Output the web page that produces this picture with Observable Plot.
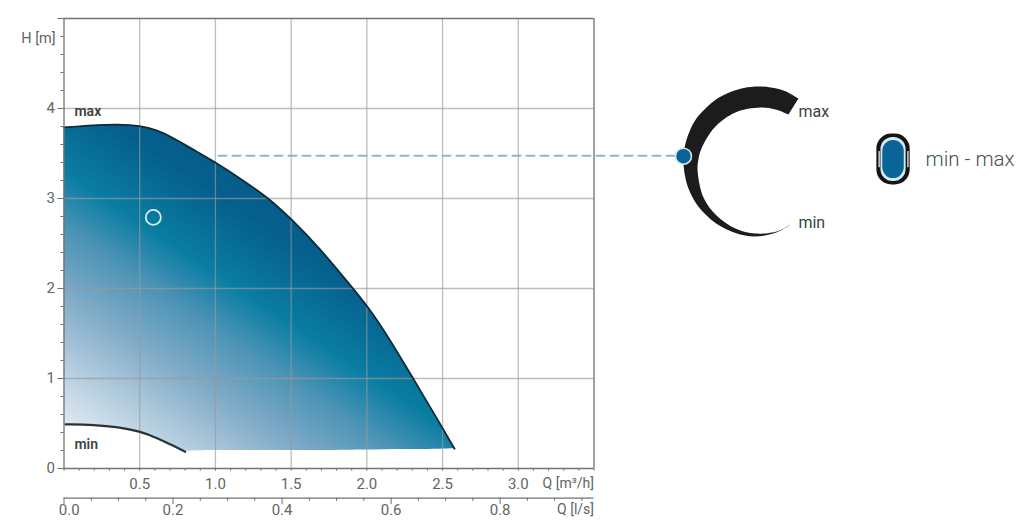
<!DOCTYPE html>
<html><head><meta charset="utf-8">
<style>html,body{margin:0;padding:0;background:#fff}svg{display:block}</style>
<script src="https://cdn.jsdelivr.net/npm/d3@7"></script>
<script src="https://cdn.jsdelivr.net/npm/@observablehq/plot@0.6"></script>
</head><body><div id="chart"></div>
<script>
// Pump curve: Q in m3/h, H in m
const curveQ   = [0, 0.2, 0.36, 0.5, 0.615, 0.725, 0.8, 0.835, 0.998, 1.166, 1.352, 1.496, 1.683, 1.914, 2.0, 2.123, 2.31, 2.497, 2.579];
const curveMax = [3.79, 3.815, 3.825, 3.81, 3.76, 3.67, 3.595, 3.56, 3.405, 3.22, 3.005, 2.78, 2.46, 1.989, 1.811, 1.514, 0.989, 0.459, 0.219];
const curveLow = [0.49, 0.486, 0.46, 0.414, 0.34, 0.25, 0.186, 0.195, 0.20, 0.20, 0.20, 0.20, 0.20, 0.205, 0.205, 0.21, 0.21, 0.215, 0.219];
const minQ = [0.01, 0.2, 0.36, 0.5, 0.615, 0.725, 0.8];
const minH = [0.49, 0.486, 0.46, 0.414, 0.34, 0.25, 0.186];

const workQ = [0.59], workH = [2.79];
const dashQ = [1.02, 4.05], dashH = [3.475, 3.475];

// Axes
const gridQ = [0.5, 1.0, 1.5, 2.0, 2.5, 3.0];
const gridH = [1, 2, 3, 4];
const labelH = [0, 1, 2, 3, 4];
const majorH = [0, 1, 2, 3, 4, 5];
const minorH = [0.2,0.4,0.6,0.8,1.2,1.4,1.6,1.8,2.2,2.4,2.6,2.8,3.2,3.4,3.6,3.8,4.2,4.4,4.6,4.8];
const tickQ = [0,0.1,0.2,0.3,0.4,0.5,0.6,0.7,0.8,0.9,1.0,1.1,1.2,1.3,1.4,1.5,1.6,1.7,1.8,1.9,2.0,2.1,2.2,2.3,2.4,2.5,2.6,2.7,2.8,2.9,3.0,3.1,3.2,3.3,3.4,3.5];
const labelQ = [0.5, 1.0, 1.5, 2.0, 2.5, 3.0];
const lpsMajor = [0, 0.2, 0.4, 0.6, 0.8];
const lpsMinor = [0.05,0.1,0.15,0.25,0.3,0.35,0.45,0.5,0.55,0.65,0.7,0.75,0.85,0.9,0.95];
const M3H_PER_LPS = 3.6;

// Speed dial and legend glyph, same coordinate frame as the chart
const dialQ = [4.850,4.760,4.666,4.586,4.490,4.401,4.310,4.236,4.175,4.131,4.100,4.091,4.100,4.124,4.184,4.302,4.434,4.566,4.712,4.798,
               4.712,4.566,4.434,4.309,4.223,4.184,4.190,4.210,4.296,4.434,4.599,4.699,4.784];
const dialH = [4.111,4.195,4.233,4.244,4.228,4.184,4.105,4.000,3.885,3.744,3.580,3.411,3.260,3.111,2.922,2.727,2.618,2.578,2.628,2.711,
               2.637,2.611,2.667,2.811,3.011,3.311,3.440,3.556,3.789,3.956,4.011,3.989,3.933];
const dialDotQ = [4.091], dialDotH = [3.47];
const glyphQ = 5.478, glyphH = 3.433;
const glyphHalfQ = [0.110, 0.083, 0.071], glyphHalfH = [0.283, 0.245, 0.212];
const glyphFill = ["#141414", "#d5ebf2", "#0b6497"];

const ink = "#5f6664", gridC = "#9a9a9a", frame = "#6f7372";
const F = "Roboto";
const x = {domain:[0,3.5], range:[63.5,593.5]};
const y = {domain:[0,5], range:[468,18]};
const xy = (qs,hs) => qs.map((q,i)=>({q, h:hs[i]}));
const curve = curveQ.map((q,i)=>({q, top:curveMax[i], low:curveLow[i]}));
const lbl = (q,h,t,o={}) => Plot.text([{q,h,t}],{x:"q",y:"h",text:"t",fontFamily:F,fontSize:15,fill:ink,textAnchor:"middle",...o});
const rects = glyphFill.map((f,i)=>Plot.rect([{x1:glyphQ-glyphHalfQ[i],x2:glyphQ+glyphHalfQ[i],y1:glyphH-glyphHalfH[i],y2:glyphH+glyphHalfH[i]}],
  {x1:"x1",x2:"x2",y1:"y1",y2:"y2",fill:f,rx:[15,12,11][i]}));

const defs = () => {
  const s = d3.create("svg:defs");
  const g = s.append("linearGradient").attr("id","fan").attr("gradientUnits","userSpaceOnUse")
    .attr("x1",64).attr("y1",450).attr("x2",243).attr("y2",184);
  [[0,"#edf2f8"],[0.15,"#c9dbe8"],[0.4,"#82acc8"],[0.58,"#4b93b5"],[0.72,"#0a7da3"],[0.93,"#055f8d"],[1,"#055d8b"]]
    .forEach(([o,c])=>g.append("stop").attr("offset",o).attr("stop-color",c));
  return s.node();
};

const chart = Plot.plot({
  width:1024, height:527, margin:0, style:{background:"#fff"},
  x:{...x, axis:null}, y:{...y, axis:null},
  marks:[
    defs,
    Plot.areaY(curve,{x:"q",y1:"low",y2:"top",fill:"url(#fan)",curve:"basis"}),
    Plot.ruleX(gridQ,{y1:0,y2:5,stroke:gridC,strokeOpacity:0.65,strokeWidth:1.3}),
    Plot.ruleY(gridH,{x1:0,x2:3.5,stroke:gridC,strokeOpacity:0.65,strokeWidth:1.3}),
    Plot.line(curve,{x:"q",y:"top",stroke:"#0d2a35",strokeWidth:1.8,curve:"basis"}),
    Plot.line(xy(minQ,minH),{x:"q",y:"h",stroke:"#2a3236",strokeWidth:2.2,curve:"basis"}),
    Plot.line(xy(dashQ,dashH),{x:"q",y:"h",stroke:"#8db6c7",strokeWidth:2,strokeDasharray:"8 6"}),
    Plot.dot(xy(workQ,workH),{x:"q",y:"h",r:7.5,stroke:"#d6edf3",strokeWidth:1.8,fill:"none"}),
    // frame
    Plot.ruleX([0],{y1:0,y2:5,stroke:frame,strokeWidth:1.3}),
    Plot.ruleX([3.5],{y1:0,y2:5,stroke:frame,strokeWidth:1.3}),
    Plot.ruleY([5],{x1:0,x2:3.5,stroke:frame,strokeWidth:1.3}),
    Plot.ruleY([0],{x1:0,x2:3.5,stroke:frame,strokeWidth:1.3}),
    // H ticks
    Plot.ruleY(minorH,{x1:-0.02,x2:0,stroke:frame,strokeWidth:1}),
    Plot.ruleY(majorH,{x1:-0.04,x2:0,stroke:frame,strokeWidth:1}),
    Plot.text(labelH,{x:()=>-0.06,y:d=>d,text:d=>String(d),fontFamily:F,fontSize:15,fill:ink,textAnchor:"end"}),
    lbl(-0.055,4.78,"H [m]",{textAnchor:"end",fontSize:14.5}),
    // Q m3/h axis
    Plot.ruleX(tickQ,{y1:-0.03,y2:0,stroke:frame,strokeWidth:1}),
    Plot.text(labelQ,{x:d=>d,y:()=>-0.17,text:d=>d.toFixed(1),fontFamily:F,fontSize:15,fill:ink}),
    lbl(3.5,-0.17,"Q [m³/h]",{textAnchor:"end",fontSize:14}),
    // Q l/s axis
    Plot.ruleY([-0.33],{x1:0,x2:3.5,stroke:frame,strokeWidth:1.3}),
    Plot.ruleX(lpsMinor,{x:d=>d*M3H_PER_LPS,y1:-0.365,y2:-0.33,stroke:frame,strokeWidth:1}),
    Plot.ruleX(lpsMajor,{x:d=>d*M3H_PER_LPS,y1:-0.4,y2:-0.33,stroke:frame,strokeWidth:1}),
    Plot.text(lpsMajor,{x:d=>d===0?0.034:d*M3H_PER_LPS,y:()=>-0.46,text:d=>d.toFixed(1),fontFamily:F,fontSize:15,fill:ink}),
    lbl(3.5,-0.46,"Q [l/s]",{textAnchor:"end",fontSize:14}),
    // labels on curve
    lbl(0.069,3.967,"max",{textAnchor:"start",fontWeight:600,fontSize:14,fill:"#3c4343"}),
    lbl(0.069,0.267,"min",{textAnchor:"start",fontWeight:600,fontSize:14,fill:"#3c4343"}),
    // dial
    Plot.line(xy(dialQ,dialH),{x:"q",y:"h",fill:"#1c1c1c",stroke:"none",curve:"catmull-rom"}),
    Plot.dot(xy(dialDotQ,dialDotH),{x:"q",y:"h",r:8,fill:"#0b6497",stroke:"#cde6ee",strokeWidth:1.6}),
    lbl(4.85,3.967,"max",{textAnchor:"start",fontSize:16,fill:"#3c4343"}),
    lbl(4.85,2.733,"min",{textAnchor:"start",fontSize:16,fill:"#3c4343"}),
    // legend glyph
    ...rects,
    Plot.ruleX([glyphQ-0.095,glyphQ+0.095],{y1:glyphH-0.09,y2:glyphH+0.09,stroke:"#fff",strokeWidth:1.2}),
    lbl(5.689,3.433,"min - max",{textAnchor:"start",fontSize:20.5,fontWeight:300,fill:"#4a5050"})
  ]
});
document.getElementById("chart").appendChild(chart);
</script></body></html>
